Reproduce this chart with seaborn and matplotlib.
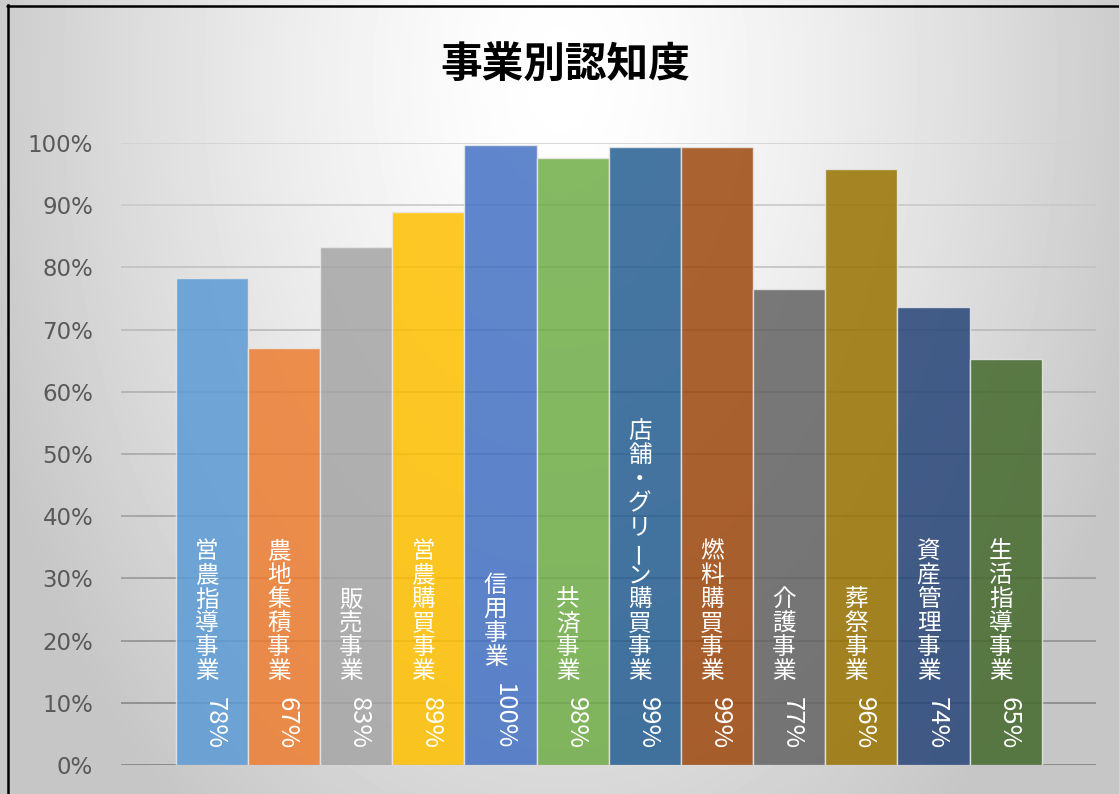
import numpy as np
import pandas as pd
import matplotlib
matplotlib.use("Agg")
import matplotlib.pyplot as plt
import seaborn as sns

# データ
jigyo = ["営農指導事業", "農地集積事業", "販売事業", "営農購買事業", "信用事業", "共済事業",
         "店舗・グリーン購買事業", "燃料購買事業", "介護事業", "葬祭事業", "資産管理事業", "生活指導事業"]
ninchido = [78.3, 67.0, 83.3, 88.9, 99.6, 97.6, 99.3, 99.3, 76.6, 95.8, 73.6, 65.3]
bar_colors = ["#5B9BD5", "#ED7D31", "#A5A5A5", "#FFC000", "#4472C4", "#70AD47",
              "#255E91", "#9E480E", "#636363", "#997300", "#264478", "#43682B"]
y_ticks = [0, 10, 20, 30, 40, 50, 60, 70, 80, 90, 100]
title = "事業別認知度"

df = pd.DataFrame({"事業": jigyo, "認知度": ninchido})

sns.set_theme(style="white")
plt.rcParams["font.family"] = ["DejaVu Sans"]
JP = ["Noto Sans CJK JP", "DejaVu Sans"]

W, H = 1119, 794
fig = plt.figure(figsize=(W / 100, H / 100), dpi=100)

# 背景 (放射グラデーション) と枠線
bg = fig.add_axes([0, 0, 1, 1], zorder=-10)
yy, xx = np.mgrid[0:H, 0:W]
r = np.sqrt(((xx - 560) / 720) ** 2 + ((yy - 80) / 1100) ** 2)
shade = np.clip(255 - 72 * r ** 1.4, 198, 255) / 255
bg.imshow(shade, cmap="gray", vmin=0, vmax=1, aspect="auto", extent=[0, W, H, 0])
bg.plot([7.5, 7.5], [H, 5], color="black", lw=1.8, solid_capstyle="projecting")
bg.plot([7, W], [5.5, 5.5], color="black", lw=1.8)
bg.set_xlim(0, W)
bg.set_ylim(H, 0)
bg.axis("off")

# メインの棒グラフ
ax = fig.add_axes([121 / W, 1 - 765 / H, (1096 - 121) / W, (765 - 143) / H])
ax.patch.set_alpha(0)

grid_grays = np.linspace(0.50, 0.82, len(y_ticks))
for t, g in zip(y_ticks, grid_grays):
    ax.axhline(t, color=str(g), lw=1.2, zorder=1)

sns.barplot(data=df, x="事業", y="認知度", hue="事業", palette=bar_colors, saturation=1,
            width=1.0, alpha=0.85, edgecolor="#e8e8e8", linewidth=1.0,
            legend=False, ax=ax, zorder=3)

ax.set_xlim(-1.258, 12.252)
ax.set_ylim(0, 100)
ax.set_xticks([])
ax.set_yticks(y_ticks)
ax.set_yticklabels([f"{t}%" for t in y_ticks])
ax.tick_params(axis="y", length=0, pad=20, labelsize=16.5, labelcolor="#595959")
ax.set_xlabel("")
ax.set_ylabel("")
sns.despine(ax=ax, left=True, bottom=True)

# 縦書きラベル (名前 + %)
nums = []
for i, val in enumerate(ninchido):
    t = ax.annotate(f"{val:.0f}%", xy=(i, 0), xytext=(3, 16), textcoords="offset pixels",
                    rotation=-90, ha="center", va="bottom", color="white",
                    fontsize=18.5, family=JP, zorder=5)
    nums.append(t)

fig.canvas.draw()
pitch = 24
gap = 13
for i, name in enumerate(jigyo):
    num_h = nums[i].get_window_extent().height
    n = len(name)
    for k, ch in enumerate(name):
        off = 16 + num_h + gap + (n - 1 - k) * pitch + pitch / 2
        ax.annotate(ch, xy=(i, 0), xytext=(-5, off), textcoords="offset pixels",
                    ha="center", va="center", color="white", fontsize=17, family=JP,
                    rotation=90 if ch == "ー" else 0, zorder=5)

fig.text(565 / W, 1 - 65 / H, title, ha="center", va="center", fontsize=30,
         fontweight="bold", family=JP, color="black")

fig.savefig("out.png", dpi=100)
